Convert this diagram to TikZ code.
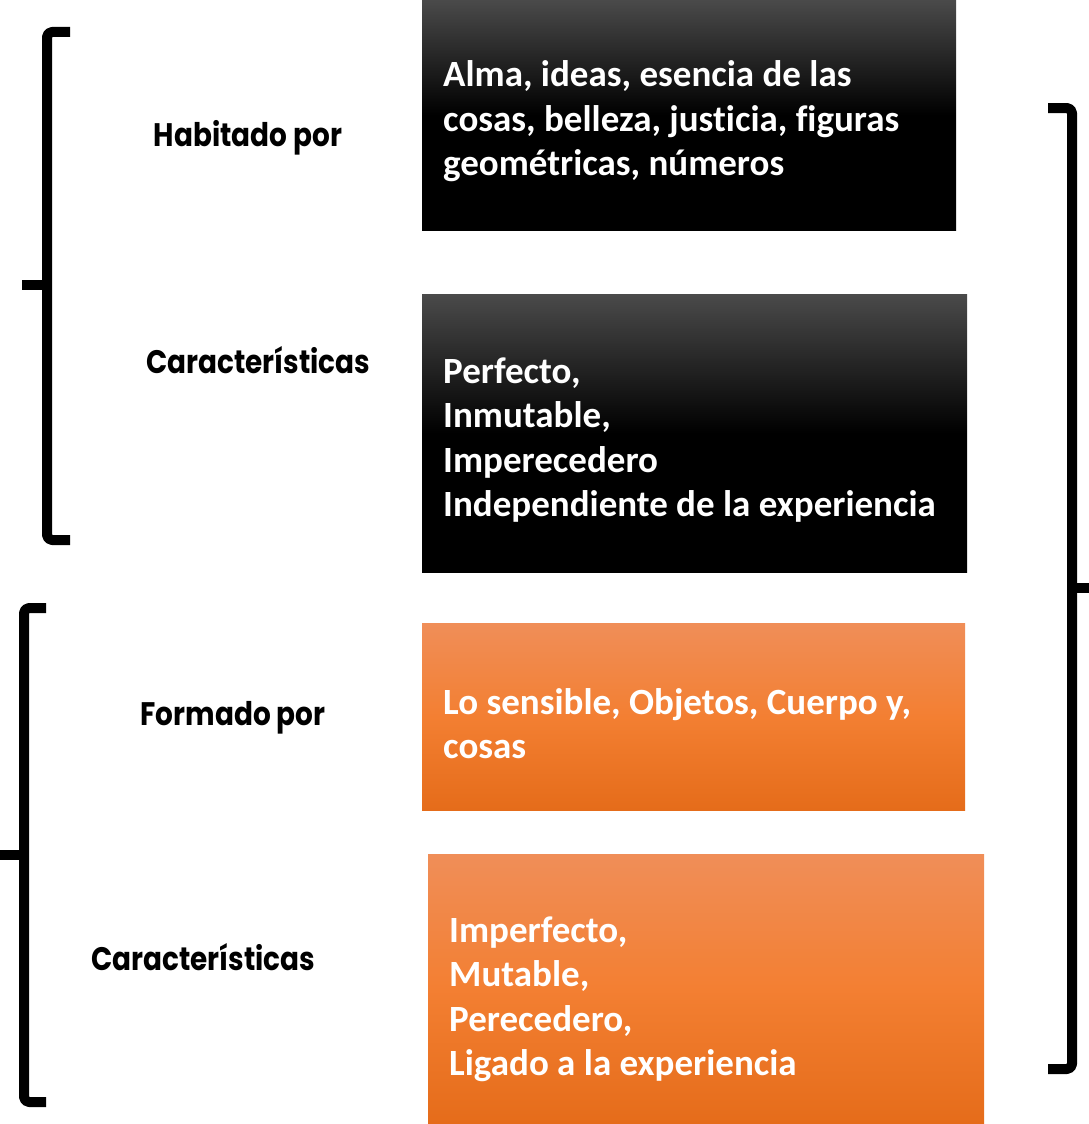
\documentclass[tikz,border=0pt]{standalone}
\usepackage{fontspec}
\usepackage{graphicx}
\setmainfont{Carlito}[Ligatures={NoCommon}]
\newfontfamily\lblfont{Poppins}
\newcommand{\lbltext}[1]{\scalebox{0.9}[1.05]{#1}}
\definecolor{darktop}{RGB}{74,74,74}
\definecolor{orangetop}{RGB}{240,142,88}
\definecolor{orangemid}{RGB}{243,127,50}
\definecolor{orangebot}{RGB}{229,108,26}
\tikzset{
  darkbox/.style={rectangle, anchor=north west, inner sep=0pt, top color=darktop, bottom color=black, middle color=black},
  orangebox/.style={rectangle, anchor=north west, inner sep=0pt, top color=orangetop, bottom color=orangebot, middle color=orangemid},
  boxtext/.style={anchor=west, inner sep=0pt, align=left, text=white, font=\bfseries\fontsize{37}{44.5}\selectfont},
  lbl/.style={inner sep=0pt, font=\lblfont\bfseries\fontsize{31}{36}\selectfont},
  brk/.style={line width=10pt, rounded corners=5pt, line join=round}
}
\begin{document}
\begin{tikzpicture}[x=1pt,y=-1pt]
\useasboundingbox (0,0) rectangle (1089,1124);
% boxes
\node[darkbox, minimum width=534pt, minimum height=230pt] (b1) at (422,0) {};
\node[darkbox, minimum width=545pt, minimum height=278pt] (b2) at (422,294) {};
\node[orangebox, minimum width=543pt, minimum height=187pt] (b3) at (422,623) {};
\node[orangebox, minimum width=556pt, minimum height=270pt] (b4) at (428,854) {};
% box texts
\node[boxtext] (t1) at ([xshift=21pt,yshift=-6pt]b1.west) {Alma, ideas, esencia de las\\cosas, belleza, justicia, figuras\\geométricas, números};
\node[boxtext] (t2) at ([xshift=21pt,yshift=-7pt]b2.west) {Perfecto,\\Inmutable,\\Imperecedero\\Independiente de la experiencia};
\node[boxtext] (t3) at ([xshift=21pt,yshift=-7pt]b3.west) {Lo sensible, Objetos, Cuerpo y,\\cosas};
\node[boxtext] (t4) at ([xshift=21pt,yshift=-10pt]b4.west) {Imperfecto,\\Mutable,\\Perecedero,\\Ligado a la experiencia};
% labels
\node[lbl] (l1) at (248,138) {\lbltext{Habitado por}};
\node[lbl] (l2) at (258,360) {\lbltext{Características}};
\node[lbl] (l3) at (233,718) {\lbltext{Formado por}};
\node[lbl] (l4) at (203,957) {\lbltext{Características}};
% left top bracket
\draw[brk] (70,32) -- (47,32) -- (47,540) -- (70,540);
\draw[line width=10pt] (47,285) -- (22,285);
% left bottom bracket
\draw[brk] (46,608) -- (24,608) -- (24,1102) -- (46,1102);
\draw[line width=10pt] (24,855) -- (0,855);
% right bracket
\draw[brk] (1048,108) -- (1072,108) -- (1072,1069) -- (1048,1069);
\draw[line width=10pt] (1072,588) -- (1089,588);
\end{tikzpicture}
\end{document}
